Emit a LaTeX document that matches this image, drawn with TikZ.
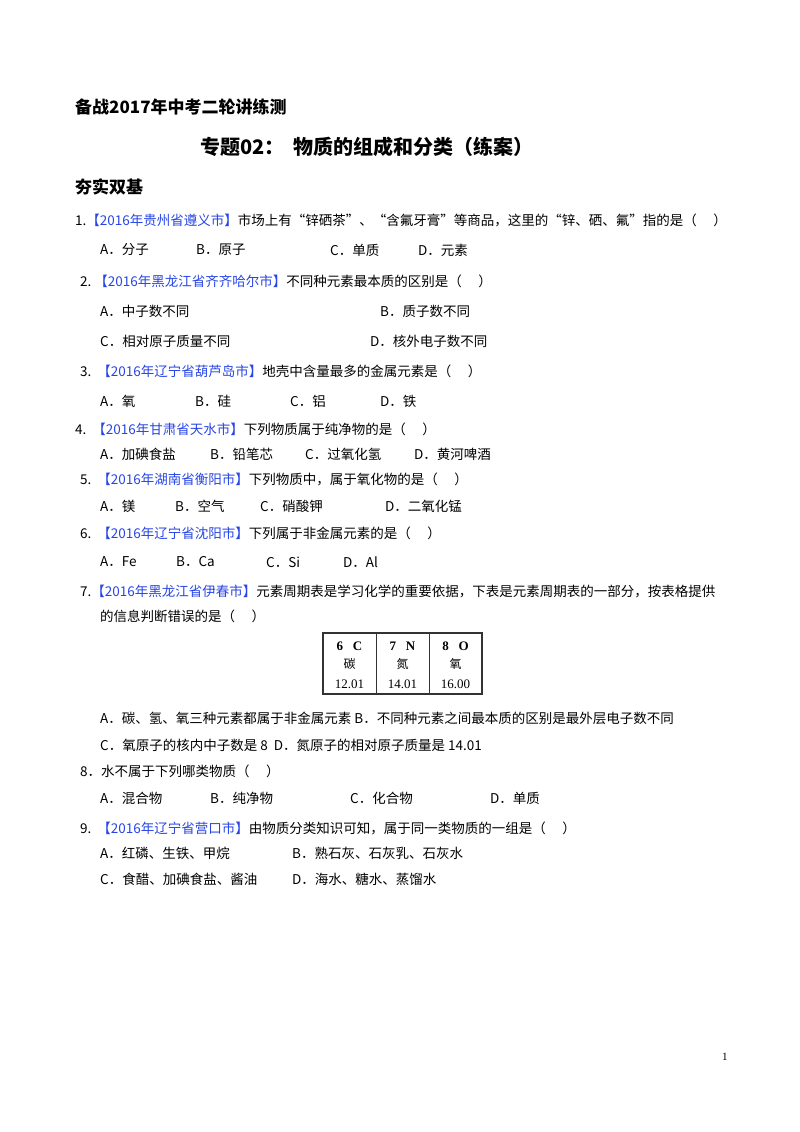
\documentclass[tikz,border=0pt]{standalone}
\usepackage{fontspec}
\setmainfont{Noto Sans CJK SC}
\newfontfamily\lat{Liberation Serif}
\definecolor{srcblue}{RGB}{40,70,230}
\begin{document}
\begin{tikzpicture}[x=1pt,y=-1pt,
  txt/.style={anchor=west,inner sep=0pt,font=\fontsize{13.5}{15}\selectfont},
  hd/.style={anchor=west,inner sep=0pt,font=\fontsize{17}{19}\selectfont\bfseries},
  cell/.style={inner sep=0pt,font=\lat\fontsize{13}{14}\selectfont}]
\useasboundingbox[fill=white] (0,0) rectangle (800,1132);
\newcommand{\src}[1]{\textcolor{srcblue}{#1}}
\node[hd] (h1) at (75,107) {备战2017年中考二轮讲练测};
\node[hd,font=\fontsize{20}{22}\selectfont\bfseries] (h2) at (200,147) {专题02：\ \ 物质的组成和分类（练案）};
\node[hd] (h3) at (75,187) {夯实双基};

\node[txt] (q1) at (75,220) {1.\src{【2016年贵州省遵义市】}市场上有“锌硒茶”、“含氟牙膏”等商品，这里的“锌、硒、氟”指的是（\quad\ ）};
\node[txt] (q1a) at (100,250) {A．分子};
\node[txt] (q1b) at (196,250) {B．原子};
\node[txt] (q1c) at (330,250) {C．单质};
\node[txt] (q1d) at (418,250) {D．元素};

\node[txt] (q2) at (80,281) {2.\ \src{【2016年黑龙江省齐齐哈尔市】}不同种元素最本质的区别是（\quad\ ）};
\node[txt] (q2a) at (100,311) {A．中子数不同};
\node[txt] (q2b) at (380,311) {B．质子数不同};
\node[txt] (q2c) at (100,341) {C．相对原子质量不同};
\node[txt] (q2d) at (370,341) {D．核外电子数不同};

\node[txt] (q3) at (80,371) {3.\ \ \src{【2016年辽宁省葫芦岛市】}地壳中含量最多的金属元素是（\quad\ ）};
\node[txt] (q3a) at (100,401) {A．氧};
\node[txt] (q3b) at (195,401) {B．硅};
\node[txt] (q3c) at (290,401) {C．铝};
\node[txt] (q3d) at (380,401) {D．铁};

\node[txt] (q4) at (75,429) {4.\ \ \src{【2016年甘肃省天水市】}下列物质属于纯净物的是（\quad\ ）};
\node[txt] (q4a) at (100,454) {A．加碘食盐};
\node[txt] (q4b) at (210,454) {B．铅笔芯};
\node[txt] (q4c) at (305,454) {C．过氧化氢};
\node[txt] (q4d) at (414,454) {D．黄河啤酒};

\node[txt] (q5) at (80,479) {5.\ \ \src{【2016年湖南省衡阳市】}下列物质中，属于氧化物的是（\quad\ ）};
\node[txt] (q5a) at (100,506) {A．镁};
\node[txt] (q5b) at (175,506) {B．空气};
\node[txt] (q5c) at (260,506) {C．硝酸钾};
\node[txt] (q5d) at (385,506) {D．二氧化锰};

\node[txt] (q6) at (80,533) {6.\ \ \src{【2016年辽宁省沈阳市】}下列属于非金属元素的是（\quad\ ）};
\node[txt] (q6a) at (100,562) {A．Fe};
\node[txt] (q6b) at (176,562) {B．Ca};
\node[txt] (q6c) at (266,562) {C．Si};
\node[txt] (q6d) at (343,562) {D．Al};

\node[txt] (q7) at (80,591) {7.\src{【2016年黑龙江省伊春市】}元素周期表是学习化学的重要依据，下表是元素周期表的一部分，按表格提供};
\node[txt] (q7b) at (100,616) {的信息判断错误的是（\quad\ ）};

\draw[line width=1.2pt,draw=black!80] (323,633) rectangle (482,694);
\draw[line width=0.8pt,draw=black!80] (376,633) -- (376,694) (429,633) -- (429,694);
\node[cell] (c1) at (349.5,646) {\textbf{6\ \ \ C}};
\node[cell,font=\fontsize{12}{13}\selectfont] (c1m) at (349.5,664) {碳};
\node[cell] (c1b) at (349.5,684) {12.01};
\node[cell] (c2) at (402.5,646) {\textbf{7\ \ \ N}};
\node[cell,font=\fontsize{12}{13}\selectfont] (c2m) at (402.5,664) {氮};
\node[cell] (c2b) at (402.5,684) {14.01};
\node[cell] (c3) at (455.5,646) {\textbf{8\ \ \ O}};
\node[cell,font=\fontsize{12}{13}\selectfont] (c3m) at (455.5,664) {氧};
\node[cell] (c3b) at (455.5,684) {16.00};

\node[txt] (q7x) at (100,718) {A．碳、氢、氧三种元素都属于非金属元素 B．不同种元素之间最本质的区别是最外层电子数不同};
\node[txt] (q7y) at (100,745) {C．氧原子的核内中子数是 8\ \ D．氮原子的相对原子质量是 14.01};

\node[txt] (q8) at (80,771) {8．水不属于下列哪类物质（\quad\ ）};
\node[txt] (q8a) at (100,798) {A．混合物};
\node[txt] (q8b) at (210,798) {B．纯净物};
\node[txt] (q8c) at (350,798) {C．化合物};
\node[txt] (q8d) at (490,798) {D．单质};

\node[txt] (q9) at (80,828) {9.\ \ \src{【2016年辽宁省营口市】}由物质分类知识可知，属于同一类物质的一组是（\quad\ ）};
\node[txt] (q9a) at (100,853) {A．红磷、生铁、甲烷};
\node[txt] (q9b) at (292,853) {B．熟石灰、石灰乳、石灰水};
\node[txt] (q9c) at (100,879) {C．食醋、加碘食盐、酱油};
\node[txt] (q9d) at (292,879) {D．海水、糖水、蒸馏水};

\node[txt,font=\lat\fontsize{11}{12}\selectfont] (pg) at (722,1057) {1};
\end{tikzpicture}
\end{document}
